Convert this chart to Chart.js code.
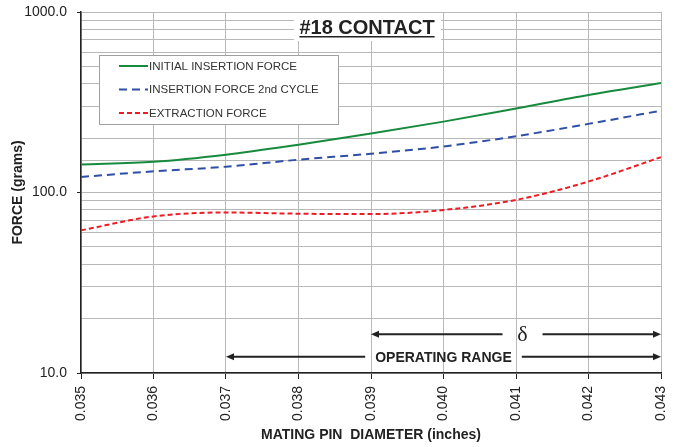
<!DOCTYPE html>
<html>
<head>
<meta charset="utf-8">
<style>
  html, body { margin: 0; padding: 0; background: #fff; }
  #wrap { width: 683px; height: 447px; }
</style>
<script src="https://cdn.jsdelivr.net/npm/chart.js@4.4.1/dist/chart.umd.min.js"></script>
</head>
<body>
<div id="wrap"><canvas id="forceChart" width="683" height="447"></canvas></div>
<script>
// Pin diameter (inches) and measured forces (grams)
const diameters = [0.035, 0.036, 0.037, 0.038, 0.039, 0.040, 0.041, 0.042, 0.043];
const initialInsertion = [143, 148, 162, 184, 212, 247, 292, 347, 404];
const secondInsertion = [122, 131, 139, 152, 164, 180, 205, 240, 284];
const extraction = [61.7, 73.7, 77.5, 76.3, 75.9, 80, 91, 115, 157];
const yLabels = [10, 100, 1000];

// Range markers along the bottom of the plot
const deltaRange = [0.039, 0.043];
const operatingRange = [0.037, 0.043];

const toPoints = vals => vals.map((v, i) => ({ x: diameters[i], y: v }));

Chart.defaults.font.family = "'Liberation Sans', Arial, sans-serif";
Chart.defaults.color = '#222';

const gridColor = '#b8b8b8';
const axisColor = '#222';

function arrowHead(ctx, x, y, dir) {
  ctx.beginPath();
  ctx.moveTo(x, y);
  ctx.lineTo(x - dir * 8, y - 3.5);
  ctx.lineTo(x - dir * 8, y + 3.5);
  ctx.closePath();
  ctx.fill();
}

// Title, legend box and range arrows drawn on top of the plot
const overlay = {
  id: 'overlay',
  afterDatasetsDraw(chart) {
    const { ctx, chartArea, scales } = chart;
    const xs = scales.x, ys = scales.y;
    ctx.save();

    // title with white backing
    const tx = chartArea.left + 286;
    ctx.fillStyle = '#fff';
    ctx.fillRect(tx - 73, chartArea.top + 1, 147, 28);
    ctx.font = "bold 20px 'Liberation Sans', Arial";
    ctx.fillStyle = '#222';
    ctx.textAlign = 'center';
    ctx.textBaseline = 'alphabetic';
    ctx.fillText('#18 CONTACT', tx, 34);
    const tw = ctx.measureText('#18 CONTACT').width;
    ctx.fillRect(tx - tw / 2, 36, tw, 1.5);

    // legend
    const lx = 99, ly = 55, lw = 239, lh = 69;
    ctx.fillStyle = '#fff';
    ctx.fillRect(lx, ly, lw, lh);
    ctx.strokeStyle = '#a0a0a0';
    ctx.lineWidth = 1;
    ctx.strokeRect(lx + 0.5, ly + 0.5, lw, lh);
    ctx.font = "11.5px 'Liberation Sans', Arial";
    ctx.textAlign = 'left';
    ctx.textBaseline = 'middle';
    chart.data.datasets.forEach((ds, i) => {
      const y = 66 + i * 23.5;
      ctx.strokeStyle = ds.borderColor;
      ctx.lineWidth = 2;
      ctx.setLineDash(ds.borderDash || []);
      ctx.beginPath();
      ctx.moveTo(119, y);
      ctx.lineTo(148, y);
      ctx.stroke();
      ctx.setLineDash([]);
      ctx.fillStyle = '#333';
      ctx.fillText(ds.label, 149, y + 0.5);
    });

    // delta arrow
    ctx.strokeStyle = '#222';
    ctx.fillStyle = '#222';
    ctx.lineWidth = 2;
    let y = ys.getPixelForValue(16.4);
    let x1 = xs.getPixelForValue(deltaRange[0]);
    let x2 = xs.getPixelForValue(deltaRange[1]);
    const dx = xs.getPixelForValue(0.04109);
    ctx.beginPath();
    ctx.moveTo(x1 + 4, y); ctx.lineTo(dx - 20, y);
    ctx.moveTo(dx + 20, y); ctx.lineTo(x2 - 4, y);
    ctx.stroke();
    arrowHead(ctx, x1, y, -1);
    arrowHead(ctx, x2, y, 1);
    ctx.font = "22px 'Liberation Serif', 'Times New Roman', serif";
    ctx.textAlign = 'center';
    ctx.textBaseline = 'middle';
    ctx.fillText('\u03B4', dx, y + 1);

    // operating range arrow
    y = ys.getPixelForValue(12.3);
    x1 = xs.getPixelForValue(operatingRange[0]);
    x2 = xs.getPixelForValue(operatingRange[1]);
    const ox = xs.getPixelForValue(0.040);
    ctx.font = "bold 14px 'Liberation Sans', Arial";
    const ow = ctx.measureText('OPERATING RANGE').width;
    ctx.beginPath();
    ctx.moveTo(x1 + 4, y); ctx.lineTo(ox - ow / 2 - 10, y);
    ctx.moveTo(ox + ow / 2 + 10, y); ctx.lineTo(x2 - 4, y);
    ctx.stroke();
    arrowHead(ctx, x1, y, -1);
    arrowHead(ctx, x2, y, 1);
    ctx.fillText('OPERATING RANGE', ox, y + 1);

    ctx.restore();
  }
};

const ctx = document.getElementById('forceChart').getContext('2d');
new Chart(ctx, {
  type: 'line',
  data: {
    datasets: [
      {
        label: 'INITIAL INSERTION FORCE',
        data: toPoints(initialInsertion),
        borderColor: '#178a3e',
        borderWidth: 2
      },
      {
        label: 'INSERTION FORCE 2nd CYCLE',
        data: toPoints(secondInsertion),
        borderColor: '#2f4ea6',
        borderWidth: 2,
        borderDash: [8, 5]
      },
      {
        label: 'EXTRACTION FORCE',
        data: toPoints(extraction),
        borderColor: '#ec1c24',
        borderWidth: 2,
        borderDash: [5, 3]
      }
    ]
  },
  options: {
    responsive: false,
    animation: false,
    events: [],
    layout: { padding: { top: 12, right: 22, bottom: 0, left: 0 } },
    elements: {
      point: { radius: 0 },
      line: { cubicInterpolationMode: 'monotone', fill: false }
    },
    plugins: {
      legend: { display: false },
      tooltip: { enabled: false }
    },
    scales: {
      x: {
        type: 'linear',
        min: 0.035,
        max: 0.043,
        // fixed axis height; edge labels fit inside the layout padding
        afterFit: s => { s.height = 74; s.paddingLeft = 0; s.paddingRight = 0; },
        afterBuildTicks: s => { s.ticks = diameters.map(v => ({ value: v })); },
        grid: { color: gridColor, tickColor: axisColor, tickLength: 6 },
        border: { color: axisColor, width: 1.5 },
        ticks: {
          autoSkip: false,
          minRotation: 90,
          maxRotation: 90,
          padding: 7,
          font: { size: 14 },
          callback: v => v.toFixed(3)
        },
        title: {
          display: true,
          text: 'MATING PIN  DIAMETER (inches)',
          font: { size: 14, weight: 'bold' },
          padding: { top: 0, bottom: 3 }
        }
      },
      y: {
        type: 'logarithmic',
        min: 10,
        max: 1000,
        afterFit: s => { s.width = 81; s.paddingTop = 0; s.paddingBottom = 0; },
        grid: {
          color: gridColor,
          tickLength: 4,
          tickColor: c => yLabels.includes(c.tick.value) ? axisColor : 'rgba(0,0,0,0)'
        },
        border: { color: axisColor, width: 1.5 },
        ticks: {
          autoSkip: false,
          padding: 10,
          font: { size: 14 },
          callback: v => yLabels.includes(v) ? v.toFixed(1) : ''
        },
        title: {
          display: true,
          text: 'FORCE (grams)',
          font: { size: 14, weight: 'bold' },
          padding: { top: 10, bottom: 0 }
        }
      }
    }
  },
  plugins: [overlay]
});
</script>
</body>
</html>
